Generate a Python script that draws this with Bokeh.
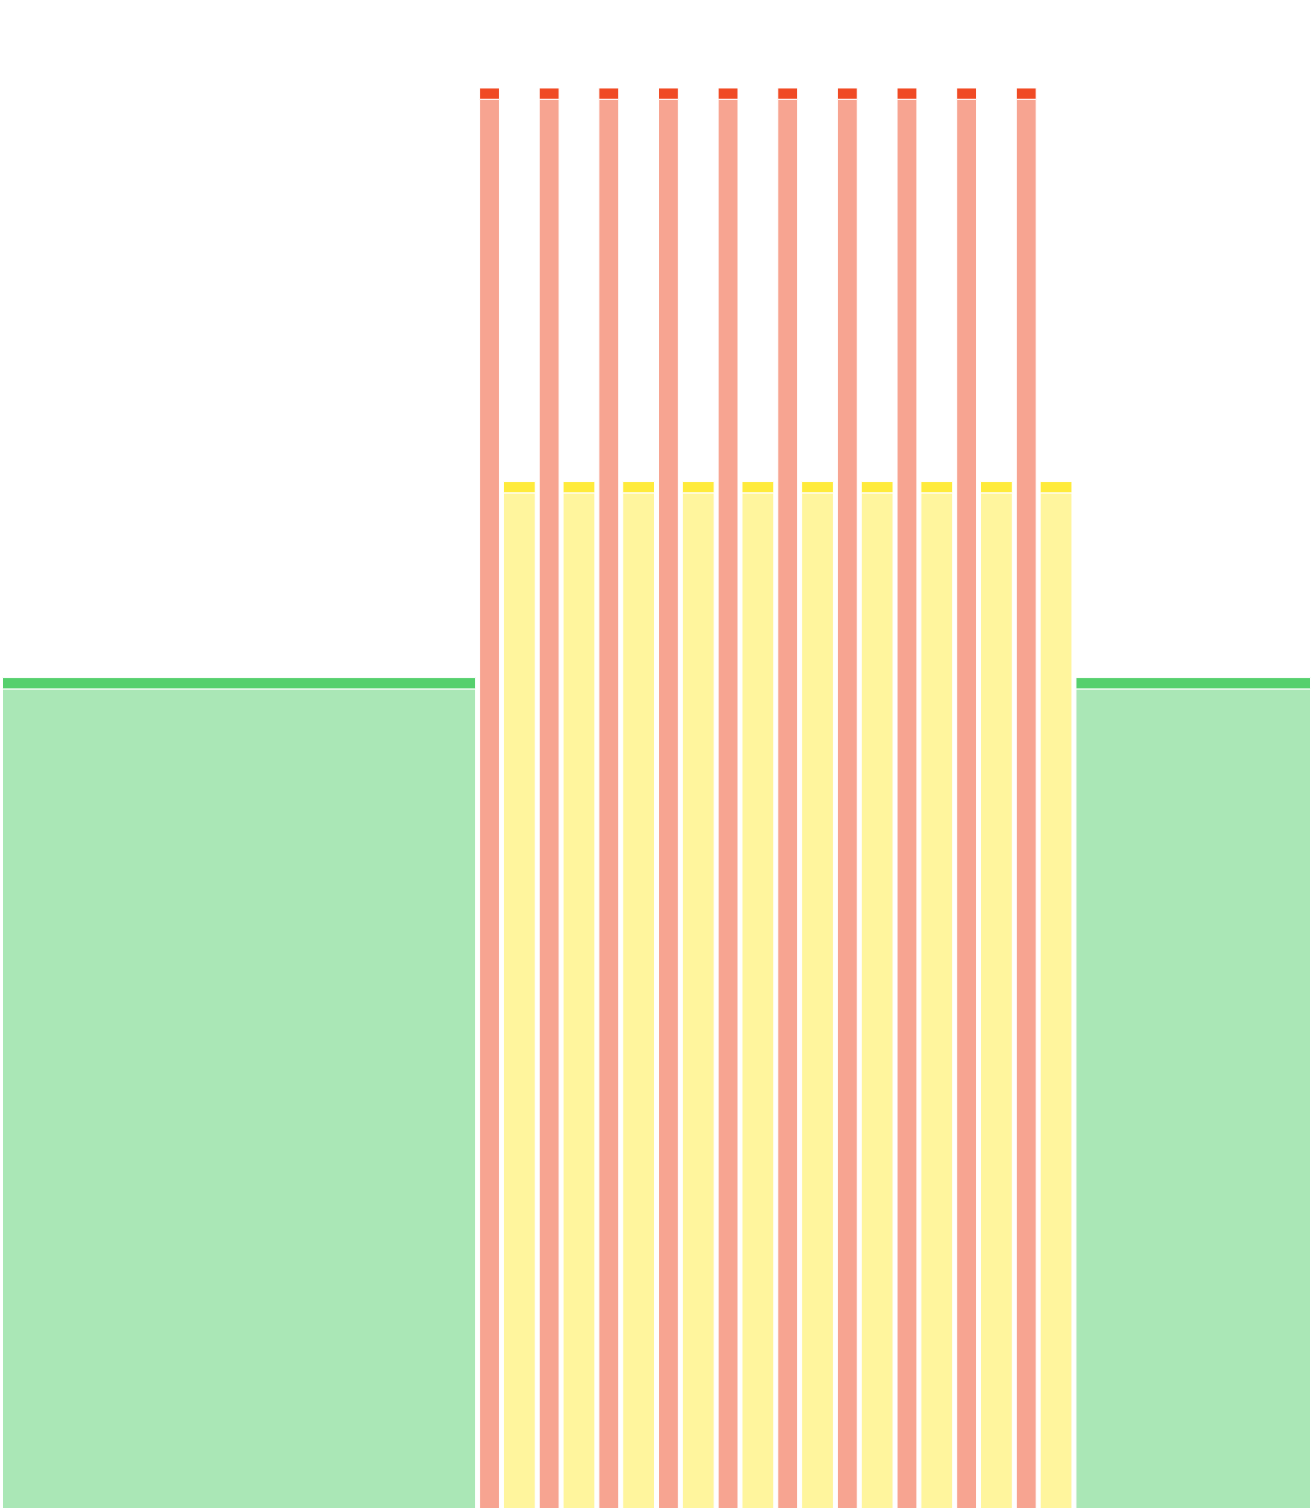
from bokeh.plotting import figure
from bokeh.models import Range1d, ColumnDataSource
from bokeh.embed import file_html
from bokeh.resources import INLINE

# --- data ---
categories = ["green"] + ["red", "yellow"] * 10 + ["green"]
durations = [240] + [12, 18] * 10 + [120]
levels = {"green": 55.1, "yellow": 68.1, "red": 94.2}
colors = {"green": "#55D06D", "yellow": "#FFEB3B", "red": "#F04A24"}

# --- build table ---
PAD = 1.0      # horizontal inset per side (x units)
CAP = 0.75     # cap band thickness (y units)
starts, ends = [], []
t = 0
for d in durations:
    starts.append(t + PAD)
    ends.append(t + d - PAD)
    t += d
tops = [levels[c] for c in categories]
cols = [colors[c] for c in categories]

body = ColumnDataSource(dict(left=starts, right=ends, bottom=[0] * len(tops),
                             top=[v - CAP for v in tops], color=cols))
cap = ColumnDataSource(dict(left=starts, right=ends,
                            bottom=[v - CAP for v in tops], top=tops, color=cols))

p = figure(width=1312, height=1508, output_backend="svg", toolbar_location=None,
           x_range=Range1d(0, t), y_range=Range1d(0, 100), min_border=0)
p.axis.visible = False
p.grid.visible = False
p.outline_line_color = None
p.background_fill_color = "white"
p.border_fill_color = "white"

p.quad(left="left", right="right", bottom="bottom", top="top", source=body,
       fill_color="color", fill_alpha=0.5, line_color="white", line_width=1)
p.quad(left="left", right="right", bottom="bottom", top="top", source=cap,
       fill_color="color", fill_alpha=1.0, line_color="white", line_width=1)

open("out.html", "w").write(file_html(p, INLINE))
